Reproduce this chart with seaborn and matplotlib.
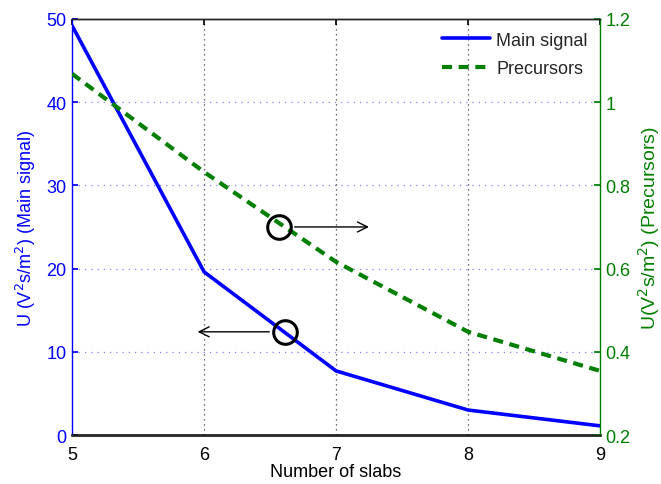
import numpy as np
import pandas as pd
import matplotlib
matplotlib.use("Agg")
import matplotlib.pyplot as plt
import seaborn as sns

# Energy density versus the number of slabs
slabs = [5, 6, 7, 8, 9]
main_signal = [49.2, 19.6, 7.7, 3.0, 1.1]
precursors = [1.068, 0.832, 0.616, 0.448, 0.354]

sns.set_theme(style="white")
plt.rcParams["font.family"] = ["Liberation Sans", "DejaVu Sans"]
plt.rcParams["font.size"] = 13

df = pd.DataFrame({"slabs": slabs, "main": main_signal, "prec": precursors})

blue = "#0000ff"
green = "#007f00"

fig = plt.figure(figsize=(6.61, 4.85), dpi=100)
ax = fig.add_axes([0.109, 0.101, 0.799, 0.858])
ax2 = ax.twinx()

sns.lineplot(data=df, x="slabs", y="main", ax=ax, color=blue, lw=2.6,
             label="Main signal", legend=False)
sns.lineplot(data=df, x="slabs", y="prec", ax=ax2, color=green, lw=3.0,
             linestyle=(0, (2.4, 1.6)), label="Precursors", legend=False)

ax.set_xlim(5, 9)
ax.set_ylim(0, 50)
ax2.set_ylim(0.2, 1.2)
ax.set_xticks([5, 6, 7, 8, 9])
ax.set_yticks([0, 10, 20, 30, 40, 50])
ax2.set_yticks([0.2, 0.4, 0.6, 0.8, 1.0, 1.2])
ax2.set_yticklabels(["0.2", "0.4", "0.6", "0.8", "1", "1.2"])

# Dotted grid: horizontal lines follow the left axis ticks
for yv in [10, 20, 30, 40]:
    ax.axhline(yv, color="#8080ff", lw=0.9, ls=(0, (1, 4)), zorder=0)
for xv in [6, 7, 8]:
    ax.axvline(xv, color="#404040", lw=0.9, ls=(0, (1, 3)), zorder=0)

ax.set_xlabel("Number of slabs", fontsize=13, color="black", labelpad=0)
ax.set_ylabel(r"U (V$^2$s/m$^2$) (Main signal)", fontsize=13, color=blue, labelpad=6)
ax2.set_ylabel(r"U(V$^2$s/m$^2$) (Precursors)", fontsize=14, color=green, labelpad=4)

for a in (ax, ax2):
    for s in a.spines.values():
        s.set_linewidth(1.0)
ax.spines["left"].set_color(blue)
ax.spines["top"].set_color("black")
ax.spines["bottom"].set_color("black")
ax.spines["bottom"].set_linewidth(1.8)
ax2.spines["right"].set_color(green)
ax2.spines["left"].set_visible(False)
ax.spines["right"].set_visible(False)

ax.tick_params(axis="x", direction="in", colors="black", labelsize=13, length=4, pad=8, top=True)
ax.tick_params(axis="y", direction="in", colors=blue, labelsize=13, length=4, pad=4, right=False)
ax2.tick_params(axis="y", direction="in", colors=green, labelsize=13, length=4, pad=4)

# Annotation circles with arrows pointing to the relevant axis
ax2.plot([6.57], [0.70], marker="o", ms=17, mfc="none", mec="black", mew=2.2, zorder=5)
ax2.annotate("", xy=(7.27, 0.70), xytext=(6.665, 0.70),
             arrowprops=dict(arrowstyle="->", color="black", lw=1.0, mutation_scale=18))
ax.plot([6.61], [12.4], marker="o", ms=17, mfc="none", mec="black", mew=2.2, zorder=5)
ax.annotate("", xy=(5.93, 12.4), xytext=(6.515, 12.4),
            arrowprops=dict(arrowstyle="->", color="black", lw=1.0, mutation_scale=18))

h1, l1 = ax.get_legend_handles_labels()
h2, l2 = ax2.get_legend_handles_labels()
ax2.legend(h1 + h2, l1 + l2, loc="upper right", frameon=False, fontsize=13,
           handlelength=2.65, handletextpad=0.35, labelspacing=0.65,
           borderaxespad=0.3, borderpad=0.4)

fig.savefig("out.png", dpi=100)
